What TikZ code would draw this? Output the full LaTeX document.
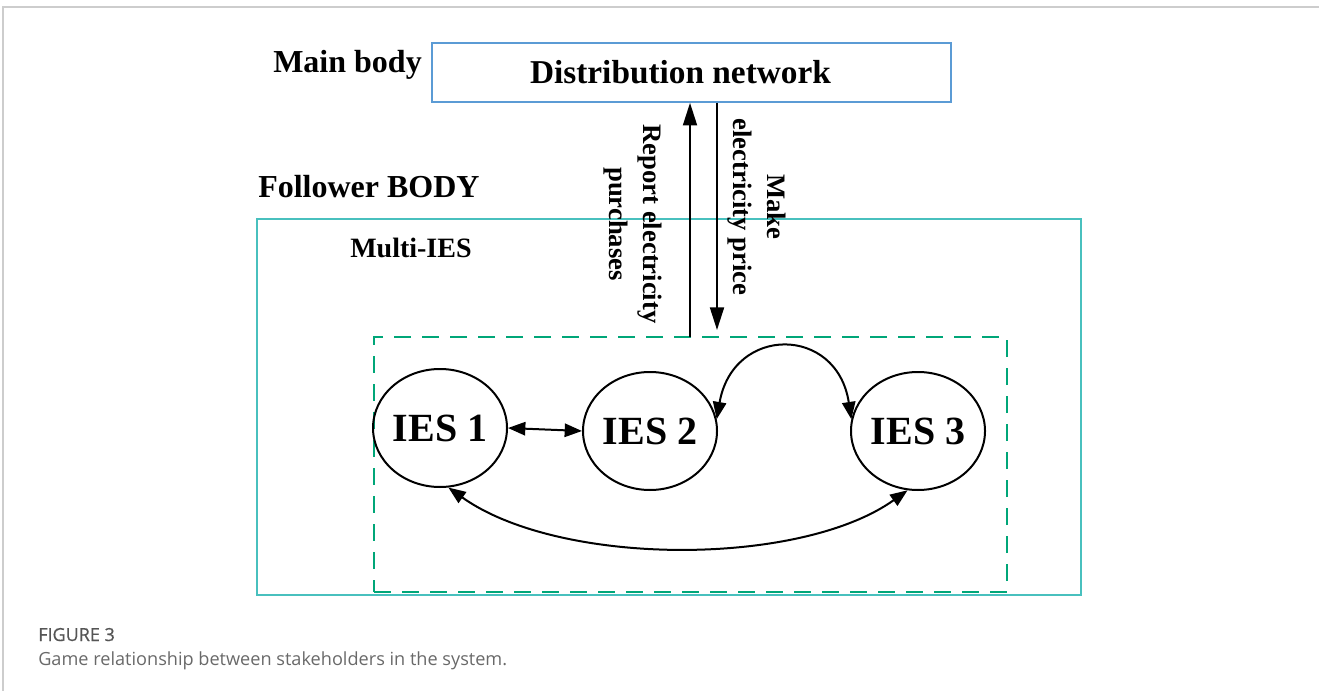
\documentclass[tikz,border=0pt]{standalone}
\usepackage{fontspec}
\setmainfont{Liberation Serif}
\newfontfamily\capfont{Open Sans}
\newfontfamily\figfont[FakeBold=0.6]{Open Sans}
\usetikzlibrary{arrows.meta,shapes.geometric}
\definecolor{netblue}{RGB}{91,155,213}
\definecolor{followcyan}{RGB}{72,192,190}
\definecolor{grpgreen}{RGB}{0,166,120}
\definecolor{framegray}{RGB}{205,205,205}
\definecolor{figgray}{RGB}{85,85,85}
\definecolor{capgray}{RGB}{105,105,105}

\begin{document}
\begin{tikzpicture}[x=0.75pt,y=-0.75pt,
  head/.style={font=\fontsize{24}{28}\selectfont\bfseries, inner sep=0pt, anchor=base west},
  subhead/.style={font=\fontsize{21}{25}\selectfont\bfseries, inner sep=0pt, anchor=base west},
  netbox/.style={draw=netblue, line width=1.5pt, minimum width=389pt, minimum height=44pt,
    inner sep=0pt, font=\fontsize{25}{30}\selectfont\bfseries},
  followbox/.style={draw=followcyan, line width=1.5pt, minimum width=618pt, minimum height=282pt, inner sep=0pt},
  grpbox/.style={draw=grpgreen, line width=2.2pt, dash pattern=on 12.75pt off 8.25pt,
    minimum width=474.75pt, minimum height=191.25pt, inner sep=0pt},
  ies/.style={ellipse, draw, line width=1.5pt, minimum width=100.5pt, minimum height=88.5pt,
    inner sep=0pt, font=\fontsize{30}{34}\selectfont\bfseries},
  side/.style={align=center, inner sep=0pt, font=\fontsize{20}{25}\selectfont\bfseries},
  flow/.style={line width=1.5pt, -{Triangle[length=17pt,width=10.5pt]}},
  link/.style={line width=1.5pt, {Triangle[length=13pt,width=10pt]}-{Triangle[length=13pt,width=10pt]}}
]
\useasboundingbox (0,0) rectangle (1319,691);

% page frame
\draw[framegray, line width=1.2pt] (3,691) -- (3,7) -- (1319,7);

% leader level
\node[head] (mb) at (273,73) {Main body};
\node[netbox] (dn) at (691.5,72.5) {\hspace*{-16.5pt}Distribution network};

% follower level
\node[head] (fb) at (258,198) {Follower BODY};
\node[followbox] (fol) at (669,407) {};
\node[subhead] (mi) at (350,258) {Multi-IES};
\node[grpbox] (grp) at (690.5,464.5) {};

% integrated energy systems
\node[ies] (e1) at (440,428) {IES 1};
\node[ies] (e2) at (650,431) {IES 2};
\node[ies] (e3) at (918,431) {IES 3};

% exchanges between the levels
\coordinate (up0) at (690,337);
\coordinate (dn1) at (717,330);
\draw[flow] (up0) -- (up0 |- dn.south);
\draw[flow] (dn1 |- dn.south) -- (dn1);
\node[side, rotate=-90] (rep) at (633,224) {Report electricity\\purchases};
\node[side, rotate=-90] (mk) at (757,207) {Make\\electricity price};

% exchanges among the systems
\draw[link] (e1.east) -- (e2.west);
\draw[link] (e2.10) .. controls (733,325) and (837,325) .. (e3.170);
\draw[link] (e1.-82) .. controls (560,567) and (800,567) .. (e3.-100);

% caption
\node[anchor=base west, inner sep=0pt, font=\figfont\fontsize{13.5}{16}\selectfont, text=figgray] (fig) at (38,641) {FIGURE 3};
\node[anchor=base west, inner sep=0pt, font=\capfont\fontsize{13.6}{16}\selectfont, text=capgray] (cap) at (38,665) {Game relationship between stakeholders in the system.};
\end{tikzpicture}
\end{document}
